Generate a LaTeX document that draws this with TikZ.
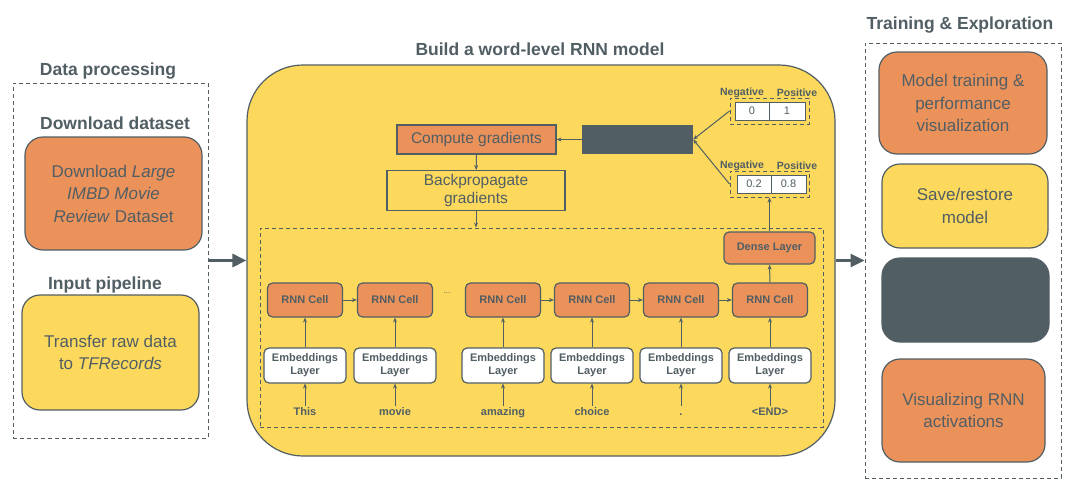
\documentclass[tikz,border=0pt]{standalone}
\usepackage{fontspec}
\setmainfont{Liberation Sans}
\usetikzlibrary{arrows.meta}
\definecolor{orangebox}{HTML}{EB925B}
\definecolor{yellowbox}{HTML}{FCD95C}
\definecolor{slate}{HTML}{515E64}

\begin{document}
\begin{tikzpicture}[x=1pt,y=-1pt,
        my title/.style={font=\fontsize{17.5}{21}\selectfont\bfseries, text=slate},
        my group/.style={draw=slate, dashed, line width=1pt, dash pattern=on 4pt off 3pt},
        my box/.style={draw=slate, line width=1.2pt, rounded corners=18pt, align=center,
          text=slate, font=\fontsize{17}{22.5}\selectfont},
        my small/.style={draw=slate, line width=1.2pt, rounded corners=5pt, align=center,
          text=slate, font=\fontsize{11}{13}\selectfont\bfseries},
        my plain/.style={draw=slate, line width=1.2pt, align=center, text=slate,
          font=\fontsize{15.5}{18.5}\selectfont},
        my cell/.style={draw=slate, fill=white, line width=1pt, minimum height=18pt,
          text=slate, font=\fontsize{11}{12}\selectfont},
        my label/.style={text=slate, font=\fontsize{10.5}{12}\selectfont\bfseries},
        my word/.style={text=slate, font=\fontsize{11}{13}\selectfont\bfseries,
          inner sep=1pt, text height=8pt, text depth=2pt},
        my arrow/.style={draw=slate, line width=1pt, -{Stealth[length=5pt,width=4pt]}},
        big arrow/.style={draw=slate, line width=3pt, -{Triangle[length=14pt,width=13pt]}},
      ]
      \useasboundingbox (0,0) rectangle (1080,498);

      % data processing
      \node[my title] at (108,71) {Data processing};
      \node[my group, minimum width=195pt, minimum height=355pt] (data) at (110.5,260.5) {};
      \node[my title] at (115,123) {Download dataset};
      \node[my box, fill=orangebox, minimum width=177pt, minimum height=113pt] (download) at (113.5,193.5)
        {Download \textit{Large}\\\textit{IMBD Movie}\\\textit{Review} Dataset};
      \node[my title] at (105,285) {Input pipeline};
      \node[my box, fill=yellowbox, minimum width=177pt, minimum height=115pt] (transfer) at (110.5,352.5)
        {Transfer raw data\\to \textit{TFRecords}};

      % RNN model
      \node[my title] at (540,49) {Build a word-level RNN model};
      \node[draw=slate, line width=1.2pt, fill=yellowbox, rounded corners=56pt,
        minimum width=588pt, minimum height=391pt] (model) at (541,260.5) {};
      \node[my group, minimum width=563pt, minimum height=199pt] (seq) at (541.5,327.5) {};
      \node[my plain, fill=orangebox, minimum width=159pt, minimum height=29pt] (compute) at (476.5,139.5)
        {Compute gradients};
      \node[my plain, fill=yellowbox, minimum width=178pt, minimum height=39pt] (backprop) at (476,190.5)
        {Backpropagate\\gradients};
      \node[fill=slate, minimum width=111pt, minimum height=29pt] (loss) at (637.5,139.5) {};

      % output tables
      \node[my group, minimum width=79pt, minimum height=26pt] (target) at (769.5,111) {};
      \node[my cell, minimum width=34pt] (tneg) at (752,111) {0};
      \node[my cell, minimum width=36pt] (tpos) at (787,111) {1};
      \node[my label] at (742,93) {Negative};
      \node[my label] at (797,93) {Positive};
      \node[my group, minimum width=79pt, minimum height=26pt] (pred) at (769.5,184) {};
      \node[my cell, minimum width=34pt] (pneg) at (754,184) {0.2};
      \node[my cell, minimum width=35pt] (ppos) at (788.5,184) {0.8};
      \node[my label] at (742,166) {Negative};
      \node[my label] at (797,166) {Positive};

      \draw[my arrow] (target.west) -- (loss.east);
      \draw[my arrow] (pred.west) -- (loss.east);
      \draw[my arrow] (loss) -- (compute);
      \draw[my arrow] (compute) -- (backprop);
      \draw[my arrow] (backprop.south) -- (backprop.south |- seq.north);

      % unrolled network
      \foreach \x/\w [count=\i] in {305/This, 395/movie, 503/amazing, 592/choice, 681/., 770/{<END>}} {
        \node[my small, fill=orangebox, minimum width=75pt, minimum height=34pt] (cell\i) at (\x,300) {RNN Cell};
        \node[my small, fill=white, minimum width=82pt, minimum height=35pt] (emb\i) at (\x,365.5) {Embeddings\\Layer};
        \node[my word] (word\i) at (\x,412) {\w};
        \draw[my arrow] (word\i) -- (emb\i);
        \draw[my arrow] (emb\i) -- (cell\i);
      }
      \node[text=slate, font=\fontsize{8}{9}\selectfont] (dots) at (447,293) {...};
      \draw[my arrow] (cell1) -- (cell2);
      \draw[my arrow] (cell3) -- (cell4);
      \draw[my arrow] (cell4) -- (cell5);
      \draw[my arrow] (cell5) -- (cell6);
      \node[my small, fill=orangebox, minimum width=91pt, minimum height=32pt] (dense) at (769.5,248) {Dense Layer};
      \draw[my arrow] (cell6) -- (dense);
      \draw[my arrow] (dense) -- (pred);

      % training and exploration
      \node[my title] at (960,25) {Training \& Exploration};
      \node[my group, minimum width=196pt, minimum height=435pt] (train) at (963,260.5) {};
      \node[my box, fill=orangebox, minimum width=168pt, minimum height=102pt] (training) at (963,103)
        {Model training \&\\performance\\visualization};
      \node[my box, fill=yellowbox, minimum width=166pt, minimum height=84pt] (save) at (965,206)
        {Save/restore\\model};
      \node[my box, fill=slate, minimum width=167pt, minimum height=84pt] (board) at (965.5,300) {};
      \node[my box, fill=orangebox, minimum width=163pt, minimum height=103pt] (activ) at (963.5,410.5)
        {Visualizing RNN\\activations};

      \draw[big arrow] (data.east) -- (model.west);
      \draw[big arrow] (model.east) -- (train.west);
    \end{tikzpicture}
\end{document}
